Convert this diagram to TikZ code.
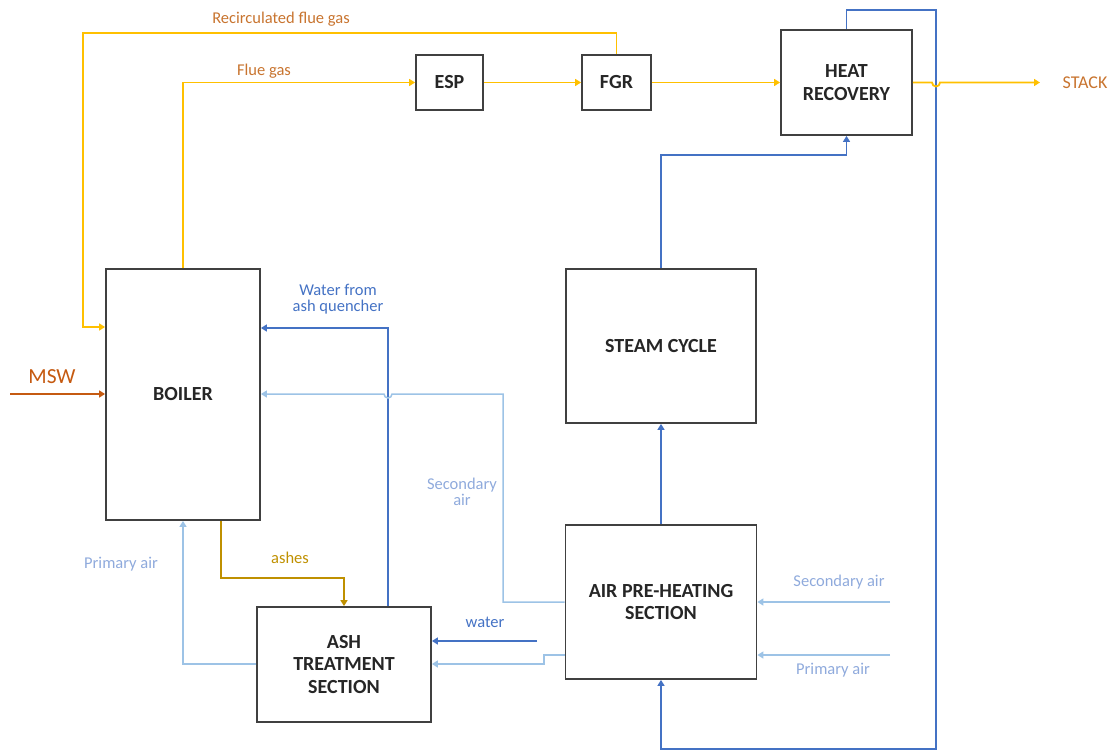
\documentclass[tikz,border=0pt]{standalone}
\usepackage{fontspec}
\setmainfont{Carlito}
\usetikzlibrary{arrows.meta,calc}
\definecolor{gasY}{HTML}{FFC000}
\definecolor{txtO}{HTML}{C8742F}
\definecolor{mswO}{HTML}{C55A11}
\definecolor{dblue}{HTML}{4472C4}
\definecolor{lblue}{HTML}{9DC3E6}
\definecolor{lbtxt}{HTML}{8FAADC}
\definecolor{ashG}{HTML}{BF9000}
\definecolor{boxK}{HTML}{404040}
\tikzset{
  box/.style={draw=boxK,line width=1.8pt,fill=white,align=center,font=\fontsize{20}{22.5}\selectfont\bfseries,text=black!85},
  tip/.style={-{Triangle[length=6pt,width=7pt]}},
  gas/.style={draw=gasY,line width=1.8pt,tip},
  dbl/.style={draw=dblue,line width=1.8pt,tip},
  lbl/.style={draw=lblue,line width=1.5pt,tip},
  ashl/.style={draw=ashG,line width=1.8pt,tip},
  mswl/.style={draw=mswO,line width=1.8pt,tip},
  lab/.style={font=\fontsize{16.5}{16}\selectfont,align=center},
}
\begin{document}
\begin{tikzpicture}[x=1pt,y=-1pt]
\useasboundingbox (0,0) rectangle (1110,751);
% boxes
\node[box,minimum width=154pt,minimum height=251pt] (boiler) at (183,394.5) {BOILER};
\node[box,minimum width=67pt,minimum height=55pt] (esp) at (449.5,82.5) {ESP};
\node[box,minimum width=69pt,minimum height=55pt] (fgr) at (616.5,82.5) {FGR};
\node[box,minimum width=131pt,minimum height=105pt] (hr) at (846.5,82.5) {HEAT\\RECOVERY};
\node[box,minimum width=190pt,minimum height=154pt] (steam) at (661,346) {STEAM CYCLE};
\node[box,minimum width=191pt,minimum height=154pt] (aph) at (661,602) {AIR PRE-HEATING\\SECTION};
\node[box,minimum width=174pt,minimum height=115pt] (ash) at (344,664.5) {ASH\\TREATMENT\\SECTION};
% coordinates
\coordinate (rc) at (83,33);
\coordinate (rcin) at (0,327);
\coordinate (hopS) at (932,82.5);
\coordinate (stackend) at (1040,82.5);
\coordinate (tr) at (936,10);
\coordinate (br) at (936,749);
\coordinate (sc) at (700,155);
\coordinate (wq) at (388,328);
\coordinate (sa1) at (503,602);
\coordinate (sa2) at (503,394);
\coordinate (sahop) at (392,394);
\coordinate (wt) at (537,641);
\coordinate (pa1) at (544,655);
\coordinate (pa2) at (544,664);
\coordinate (pa3) at (0,664);
\coordinate (ashx) at (221,578);
\coordinate (sr) at (890,602);
\coordinate (pr) at (890,655);
\coordinate (msw) at (10,394);
% gas lines
\draw[gas] (boiler.north) |- (esp.west);
\draw[gas] (esp.east) -- (fgr.west);
\draw[gas] (fgr.east) -- (hr.west);
\draw[gas] (fgr.north) |- (rc) |- (boiler.west |- rcin);
% blue loop
\draw[dbl] (hr.north) |- (tr) -- (br) -| (aph.south);
\draw[gas] (hr.east) -- (hopS) arc[start angle=180,end angle=360,radius=4pt] -- (stackend);
\draw[dbl] (steam.north) |- (sc) -| (hr.south);
\draw[dbl] (aph.north) -- (steam.south);
% water from ash quencher
\draw[dbl] (ash.north -| wq) -- (wq) -- (boiler.east |- wq);
% secondary air to boiler
\draw[lbl] (aph.west |- sa1) -- (sa1) -- (sa2) -- (sahop) arc[start angle=0,end angle=-180,radius=4pt] -- (boiler.east |- sa2);
% water
\draw[dbl] (wt) -- (ash.east |- wt);
% primary air to ash
\draw[lbl] (aph.west |- pa1) -- (pa1) -- (pa2) -- (ash.east |- pa2);
% primary air to boiler
\draw[lbl] (ash.west |- pa3) -| (boiler.south);
% ashes
\draw[ashl] (boiler.south -| ashx) -- (ashx) -| (ash.north);
% right air inputs
\draw[lbl] (sr) -- (aph.east |- sr);
\draw[lbl] (pr) -- (aph.east |- pr);
% MSW
\draw[mswl] (msw) -- (boiler.west |- msw);
% labels
\node[lab,text=txtO] (lrc) at (281,19) {Recirculated flue gas};
\node[lab,text=txtO] (lfg) at (264,71) {Flue gas};
\node[lab,text=txtO,font=\fontsize{18}{18}\selectfont] (lst) at (1085,83) {STACK};
\node[lab,text=mswO,font=\fontsize{21.5}{22}\selectfont] (lmsw) at (52,377) {MSW};
\node[lab,text=dblue] (lwq) at (338,299) {Water from\\ash quencher};
\node[lab,text=lbtxt] (lsa) at (462,492) {Secondary\\air};
\node[lab,text=dblue] (lw) at (485,622) {water};
\node[lab,text=lbtxt] (lpa) at (121,564) {Primary air};
\node[lab,text=ashG] (lash) at (290,558) {ashes};
\node[lab,text=lbtxt] (lsa2) at (839,582) {Secondary air};
\node[lab,text=lbtxt] (lpa2) at (833,670) {Primary air};
\end{tikzpicture}
\end{document}
